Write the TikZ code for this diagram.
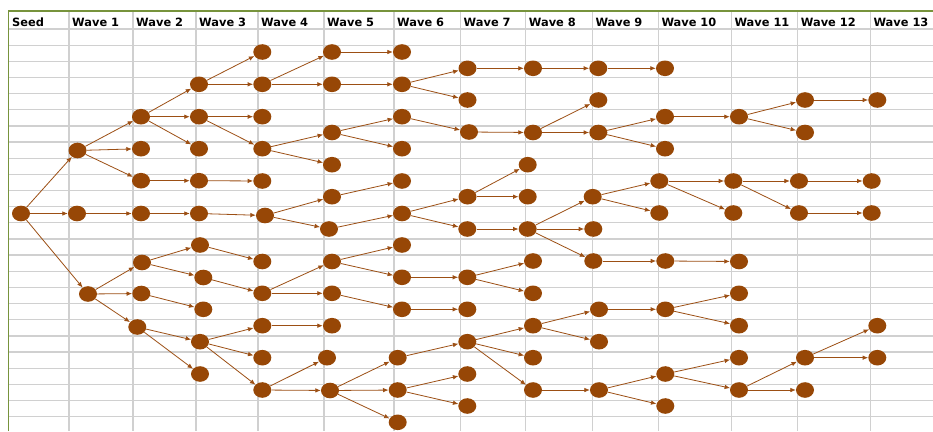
\documentclass[tikz,border=0pt]{standalone}
\usepackage{fontspec}
\setmainfont{DejaVu Sans}
\usetikzlibrary{shapes.geometric,arrows.meta}
\definecolor{nodebrown}{HTML}{974706}
\definecolor{linebrown}{HTML}{9C4F14}
\definecolor{gridgray}{HTML}{D0D0D0}
\definecolor{bordergreen}{HTML}{77933C}
\tikzset{
  nd/.style={ellipse, fill=nodebrown, draw=none, inner sep=0pt, minimum width=18pt, minimum height=15.6pt},
  arr/.style={draw=linebrown, line width=0.8pt, -{Latex[length=5.5pt,width=4.6pt]}},
  gridln/.style={draw=gridgray, line width=1.3pt},
  hdr/.style={anchor=base west, inner sep=0pt, font=\fontsize{11.4}{13}\selectfont\bfseries}
}
\begin{document}
\begin{tikzpicture}[x=1pt,y=-1pt]
\useasboundingbox (0,0) rectangle (933,431);
\fill[white] (0,0) rectangle (933,431);
% grid
\foreach \k in {0,...,24} \draw[gridln] (9,{29+16.15*\k}) -- (933,{29+16.15*\k});
\foreach \x in {69,133,196,258,324,394,460.5,525.7,592.3,658.3,731.3,797.7,870.3} \draw[gridln] (\x,11) -- (\x,431);
\draw[draw=bordergreen, line width=1.3pt] (8.7,431) -- (8.7,11) -- (933,11);
% headers
\foreach \x/\t [count=\i] in {9/Seed,69/Wave 1,133/Wave 2,196/Wave 3,258/Wave 4,324/Wave 5,394/Wave 6,460.5/Wave 7,525.7/Wave 8,592.3/Wave 9,658.3/Wave 10,731.3/Wave 11,797.7/Wave 12,870.3/Wave 13}
  \node[hdr] (h\i) at ({\x+3},26.5) {\t};
% nodes
\foreach \n/\x/\y in {
 s/21/213.5,
 w1a/77.5/150.5, w1b/77/213.5, w1c/88/294,
 w2a/141/116.7, w2b/141/148.7, w2c/141/180.7, w2d/141/213.5, w2e/142/262.5, w2f/141.3/293.5, w2g/137.3/327,
 w3a/199/84.3, w3b/199/116.7, w3c/199/148.7, w3d/199/180.7, w3e/199/213.5, w3f/200/245, w3g/203.3/277.5, w3h/203.3/309.3, w3i/200/341.7, w3j/200/374,
 w4a/262.3/52, w4b/262.3/84.3, w4c/262.3/116.7, w4d/262.3/148.7, w4e/262.3/181, w4f/265/215.5, w4g/262.3/261.5, w4h/262.3/293.3, w4i/262.3/325.7, w4j/262.3/357.7, w4k/262.3/390,
 w5a/332/52, w5b/332/84.3, w5c/332/132.5, w5d/332/164.7, w5e/332/196.7, w5f/329/229, w5g/332/261.5, w5h/332/293.3, w5i/332/325.7, w5j/327/357.7, w5k/330/390.5,
 w6a/402/52, w6b/402/84.3, w6c/402/116.7, w6d/402/148.7, w6e/402/181, w6f/402/213.5, w6g/402/245, w6h/402/277.3, w6i/402/309.3, w6j/397.7/357.7, w6k/397.7/390, w6l/397.7/422.3,
 w7a/467.5/68.3, w7b/467.5/100, w7c/469/132, w7d/467.5/196.7, w7e/467.3/229, w7f/467.3/277.3, w7g/467.3/309.3, w7h/467.3/341.7, w7i/467.3/374, w7j/467.3/406,
 w8a/533/68.3, w8b/533/132.5, w8c/527.7/164.7, w8d/527.7/196.7, w8e/527.7/229, w8f/533/261, w8g/533/293.3, w8h/533/325.7, w8i/533/357.7, w8j/533/390,
 w9a/598.3/68.3, w9b/598.3/100, w9c/598.3/132.5, w9d/592.7/196.7, w9e/593.3/229, w9f/593.3/261, w9g/599/309.3, w9h/599/341.7, w9i/599/390,
 w10a/665/68.3, w10b/665/116.7, w10c/665/148.7, w10d/659.3/181, w10e/659.3/213, w10f/665.3/261, w10g/665.3/309.3, w10h/665.3/374, w10i/665.3/406,
 w11a/739/116.7, w11b/733.3/181, w11c/733.3/213, w11d/739/261.5, w11e/739/293.3, w11f/739/325.7, w11g/739/357.7, w11h/739/390,
 w12a/805/100, w12b/805/132.5, w12c/799/181, w12d/799/213, w12e/805/357.7, w12f/805/390,
 w13a/877.3/100, w13b/871.7/181, w13c/871.7/213, w13d/877.3/325.7, w13e/877.3/357.7}
  \node[nd] (\n) at (\x,\y) {};
% connectors
\foreach \a/\b in {
 s/w1a, s/w1b, s/w1c,
 w1a/w2a, w1a/w2b, w1a/w2c, w1b/w2d, w1c/w2e, w1c/w2f, w1c/w2g,
 w2a/w3a, w2a/w3b, w2a/w3c, w2c/w3d, w2d/w3e, w2e/w3f, w2e/w3g, w2f/w3h, w2g/w3i, w2g/w3j,
 w3a/w4a, w3a/w4b, w3b/w4c, w3b/w4d, w3d/w4e, w3e/w4f, w3f/w4g, w3g/w4h, w3i/w4i, w3i/w4j, w3i/w4k,
 w4b/w5a, w4b/w5b, w4d/w5c, w4d/w5d, w4f/w5e, w4f/w5f, w4h/w5g, w4h/w5h, w4i/w5i, w4k/w5j, w4k/w5k,
 w5a/w6a, w5b/w6b, w5c/w6c, w5c/w6d, w5e/w6e, w5f/w6f, w5g/w6g, w5g/w6h, w5h/w6i, w5k/w6j, w5k/w6k, w5k/w6l,
 w6b/w7a, w6b/w7b, w6c/w7c, w6f/w7d, w6f/w7e, w6h/w7f, w6i/w7g, w6j/w7h, w6k/w7i, w6k/w7j,
 w7a/w8a, w7c/w8b, w7d/w8c, w7d/w8d, w7e/w8e, w7f/w8f, w7f/w8g, w7h/w8h, w7h/w8i, w7h/w8j,
 w8a/w9a, w8b/w9b, w8b/w9c, w8e/w9d, w8e/w9e, w8e/w9f, w8h/w9g, w8h/w9h, w8j/w9i,
 w9a/w10a, w9c/w10b, w9c/w10c, w9d/w10d, w9d/w10e, w9f/w10f, w9g/w10g, w9i/w10h, w9i/w10i,
 w10b/w11a, w10d/w11b, w10d/w11c, w10f/w11d, w10g/w11e, w10g/w11f, w10h/w11g, w10h/w11h,
 w11a/w12a, w11a/w12b, w11b/w12c, w11b/w12d, w11h/w12e, w11h/w12f,
 w12a/w13a, w12c/w13b, w12d/w13c, w12e/w13d, w12e/w13e}
  \draw[arr] (\a) -- (\b);
\end{tikzpicture}
\end{document}
